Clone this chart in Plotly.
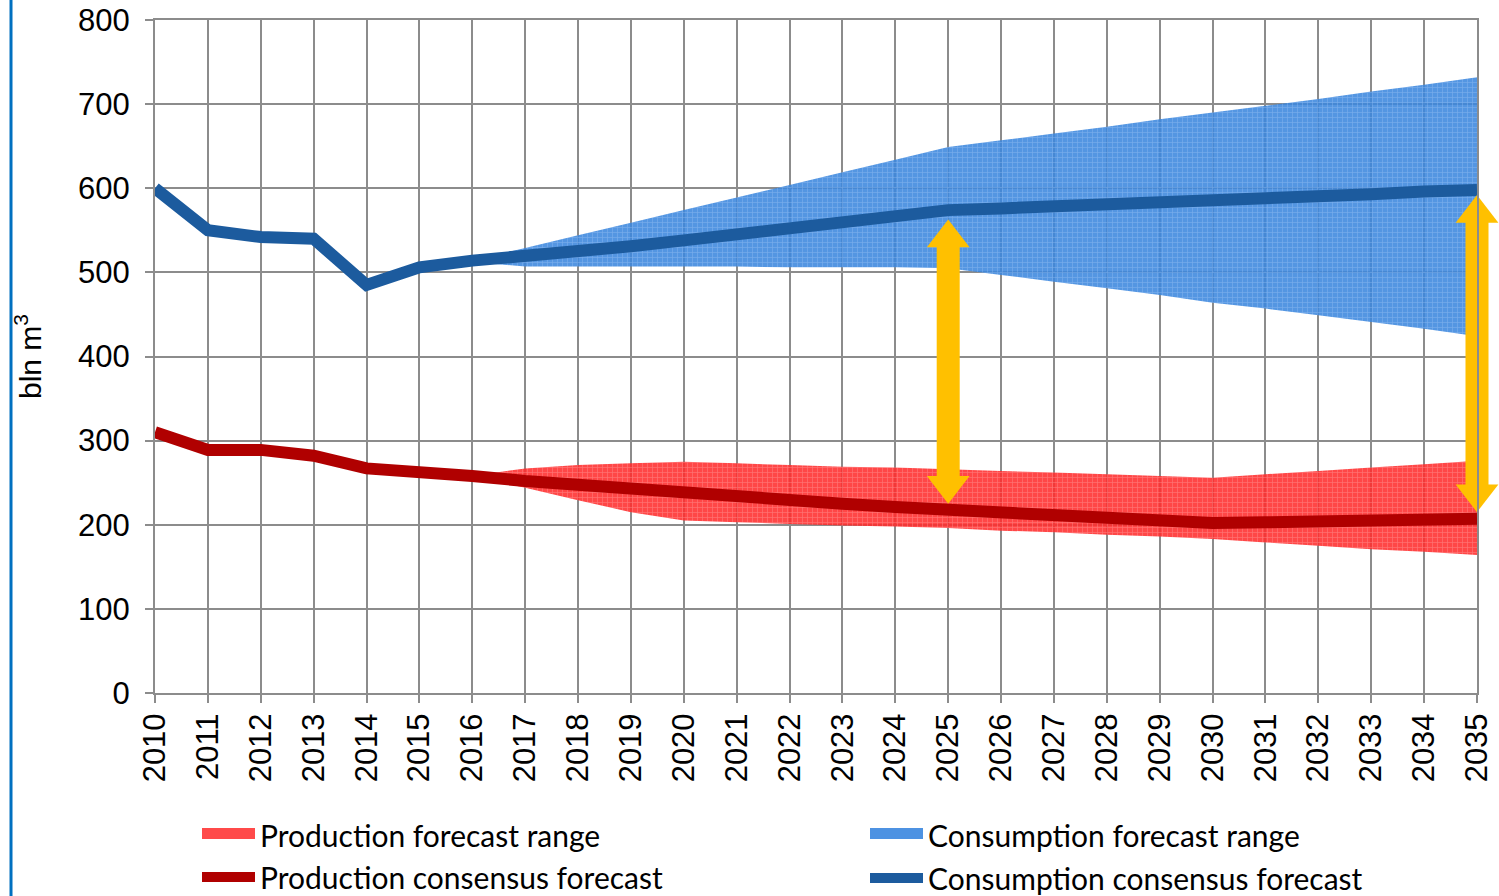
import plotly.graph_objects as go

years = list(range(2010, 2036))
forecast_years = list(range(2016, 2036))

cons_consensus = [600, 550, 542, 540, 485, 506, 514, 519, 525, 531, 538, 545, 552, 559, 567, 574,
                  576, 578, 580, 582, 585, 588, 590, 593, 596, 598]
prod_consensus = [310, 289, 289, 282, 267, 264, 258, 252, 247, 242, 237, 233, 229, 225, 221, 218,
                  215, 212, 208, 205, 202, 203, 204, 205, 206, 207]

cons_upper = [514, 529, 544, 559, 574, 589, 604, 619, 634, 649, 657, 665, 673, 682, 690, 698, 706, 715, 723, 732]
cons_lower = [512, 507, 507, 507, 507, 507, 506, 506, 506, 505, 497, 489, 481, 473, 464, 457, 449, 441, 433, 424]
prod_upper = [258, 267, 271, 273, 275, 273, 271, 269, 268, 266, 264, 262, 260, 258, 256, 260, 264, 268, 272, 276]
prod_lower = [258, 244, 229, 215, 205, 203, 201, 199, 198, 196, 193, 191, 188, 186, 183, 179, 175, 171, 168, 164]

arrow_years = [2025, 2035]
arrow_top = [563, 592]
arrow_bottom = [225, 215]

y_ticks = [0, 100, 200, 300, 400, 500, 600, 700, 800]
x_tick_labels = [str(y) for y in years]

BLUE_LINE = "#1c5b9e"
RED_LINE = "#b00000"
RED_FILL = "rgba(255,45,45,0.88)"
BLUE_FILL = "rgba(60,135,222,0.88)"
ARROW = "#ffc000"

W, H = 1499, 896
M_L, M_R, M_T, M_B = 155, 22, 20, 203
Y_MAX = 800
plot_h = H - M_T - M_B
plot_w = W - M_L - M_R
px_per_unit = plot_h / Y_MAX

fig = go.Figure()

# forecast ranges
fig.add_trace(go.Scatter(
    x=forecast_years + forecast_years[::-1], y=prod_upper + prod_lower[::-1],
    fill="toself", mode="none", fillcolor=RED_FILL,
    fillpattern=dict(shape="+", bgcolor=RED_FILL, fgcolor="rgba(255,170,170,0.9)", size=5, solidity=0.25),
    showlegend=False, hoverinfo="skip",
))
fig.add_trace(go.Scatter(
    x=forecast_years + forecast_years[::-1], y=cons_upper + cons_lower[::-1],
    fill="toself", mode="none", fillcolor=BLUE_FILL,
    fillpattern=dict(shape="+", bgcolor=BLUE_FILL, fgcolor="rgba(160,200,245,0.9)", size=5, solidity=0.25),
    showlegend=False, hoverinfo="skip",
))
# consensus lines
fig.add_trace(go.Scatter(
    x=years, y=prod_consensus, mode="lines", name="Production consensus forecast",
    line=dict(color=RED_LINE, width=12), legend="legend3",
))
fig.add_trace(go.Scatter(
    x=years, y=cons_consensus, mode="lines", name="Consumption consensus forecast",
    line=dict(color=BLUE_LINE, width=12), legend="legend4",
))
# legend entries for the ranges
fig.add_trace(go.Scatter(
    x=[None], y=[None], mode="lines", fill="toself", fillcolor="#ff4a4a",
    line=dict(color="#ff4a4a", width=10), name="Production forecast range", legend="legend",
))
fig.add_trace(go.Scatter(
    x=[None], y=[None], mode="lines", fill="toself", fillcolor="#4d92e2",
    line=dict(color="#4d92e2", width=10), name="Consumption forecast range", legend="legend2",
))

# yellow double arrows (shaft + triangular heads)
HEAD_SIZE = 37          # triangle marker size (px)
SHAFT_W = 23            # shaft width (px)
inset = 18              # shaft ends inside the heads (px)
for yr, top, bot in zip(arrow_years, arrow_top, arrow_bottom):
    shaft_len = (top - bot) * px_per_unit - 2 * inset
    fig.add_trace(go.Scatter(
        x=[yr], y=[(top + bot) / 2], mode="markers",
        marker=dict(symbol="line-ns", size=shaft_len / 1.4, line=dict(color=ARROW, width=SHAFT_W)),
        showlegend=False, hoverinfo="skip", cliponaxis=False,
    ))
    head_off = (HEAD_SIZE / 2) / px_per_unit
    fig.add_trace(go.Scatter(
        x=[yr, yr], y=[top - head_off, bot + head_off], mode="markers",
        marker=dict(symbol=["triangle-up", "triangle-down"], size=HEAD_SIZE, color=ARROW, line=dict(width=0)),
        showlegend=False, hoverinfo="skip", cliponaxis=False,
    ))

grid = "#8c8c8c"
tick_font = dict(family="Liberation Sans, Arial", size=31, color="black")
fig.update_xaxes(
    range=[2010, 2035], tickmode="array", tickvals=years, ticktext=x_tick_labels,
    tickangle=-90, showgrid=True, gridcolor=grid, gridwidth=2,
    showline=True, linecolor=grid, linewidth=2, mirror=True,
    ticks="outside", ticklen=8, tickcolor=grid, tickwidth=2, ticklabelstandoff=-2,
    tickfont=tick_font, zeroline=False, automargin=False,
)
fig.update_yaxes(
    range=[0, Y_MAX], tickmode="array", tickvals=y_ticks,
    showgrid=True, gridcolor=grid, gridwidth=2,
    showline=True, linecolor=grid, linewidth=2, mirror=True,
    ticks="outside", ticklen=8, tickcolor=grid, tickwidth=2, ticklabelstandoff=9,
    tickfont=tick_font,
    title=dict(text="bln m<sup>3</sup>", font=dict(family="Liberation Sans, Arial", size=30, color="black"),
               standoff=28),
    zeroline=False, automargin=False,
)


def px_to_paper_x(px):
    return (px - M_L) / plot_w


def px_to_paper_y(py):
    return (H - M_B - py) / plot_h


legend_font = dict(family="Lato, Noto Sans", size=30, color="black")
common = dict(xanchor="left", yanchor="middle", font=legend_font, orientation="v",
              bgcolor="rgba(0,0,0,0)", itemwidth=53, borderwidth=0)
fig.update_layout(
    width=W, height=H,
    margin=dict(l=M_L, r=M_R, t=M_T, b=M_B, autoexpand=False),
    paper_bgcolor="white", plot_bgcolor="white",
    legend=dict(x=px_to_paper_x(197), y=px_to_paper_y(835), **common),
    legend3=dict(x=px_to_paper_x(197), y=px_to_paper_y(877), **common),
    legend2=dict(x=px_to_paper_x(865), y=px_to_paper_y(835), **common),
    legend4=dict(x=px_to_paper_x(865), y=px_to_paper_y(878), **common),
    shapes=[dict(type="line", xref="paper", yref="paper",
                 x0=px_to_paper_x(11), x1=px_to_paper_x(11), y0=px_to_paper_y(H), y1=px_to_paper_y(0),
                 line=dict(color="#0070c0", width=3))],
)

fig.write_html("out.html", config={"displayModeBar": False},
               post_script="document.body.style.margin='0';")
